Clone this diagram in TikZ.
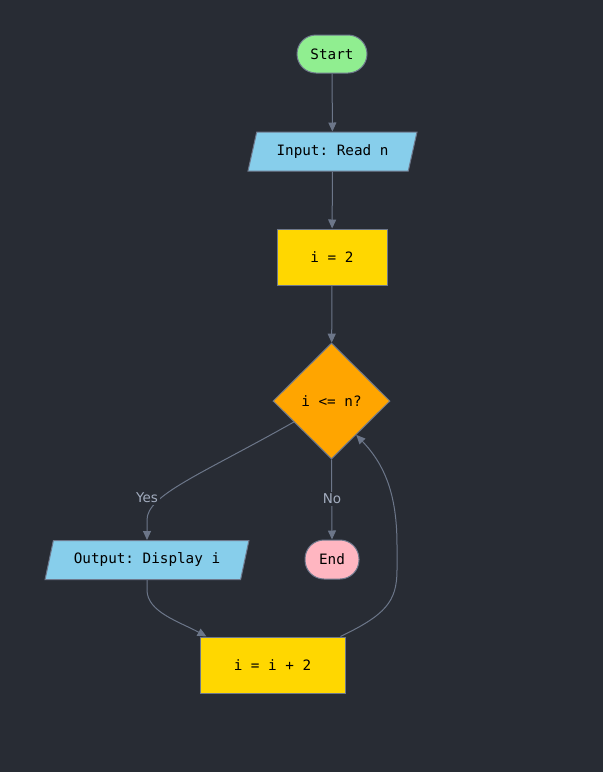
\documentclass[tikz,border=0pt]{standalone}
\usepackage{fontspec}
\setmonofont{DejaVu Sans Mono}
\newfontfamily\labelfont{DejaVu Sans}
\usetikzlibrary{shapes.geometric,arrows.meta,calc}

\definecolor{bgc}{HTML}{282C34}
\definecolor{edgec}{HTML}{6C7689}
\definecolor{borderc}{HTML}{6E788C}
\definecolor{labelc}{HTML}{A3ADBF}
\definecolor{startc}{HTML}{90EE90}
\definecolor{ioc}{HTML}{87CEEB}
\definecolor{procc}{HTML}{FFD700}
\definecolor{decc}{HTML}{FFA500}
\definecolor{endc}{HTML}{FFB6C1}

\tikzset{
  base/.style={draw=borderc, line width=1pt, text=black,
    font=\ttfamily\fontsize{14.3}{17}\selectfont, inner sep=0pt},
  terminal/.style={base, rectangle, rounded corners=19pt, minimum height=38pt},
  iobox/.style={base, trapezium, trapezium left angle=65, trapezium right angle=115,
    trapezium stretches=true, fill=ioc, minimum height=39pt},
  procbox/.style={base, rectangle, fill=procc, minimum height=56pt},
  decbox/.style={base, diamond, fill=decc, minimum width=117pt, minimum height=116pt},
  edge/.style={draw=edgec, line width=1pt, -{Triangle[length=9pt,width=8pt]}},
  elabel/.style={fill=bgc, text=labelc, inner sep=2pt,
    font=\labelfont\fontsize{13.5}{16}\selectfont}
}

\begin{document}
\begin{tikzpicture}[x=1pt, y=-1pt]
  \fill[bgc] (0,0) rectangle (603,772);
  \useasboundingbox (0,0) rectangle (603,772);

  % nodes
  \node[terminal, fill=startc, minimum width=70pt] (start) at (332,54) {Start};
  \node[iobox, minimum width=169pt] (input) at (332.5,151.5) {Input: Read n};
  \node[procbox, minimum width=110pt] (init) at (332,257) {i = 2};
  \node[decbox] (cond) at (331.5,401) {i <= n?};
  \node[iobox, minimum width=204pt] (output) at (147,560) {Output: Display i};
  \node[terminal, fill=endc, minimum width=54pt, minimum height=39pt] (stop) at (332,559.5) {End};
  \node[procbox, minimum width=145pt] (incr) at (272.5,665) {i = i + 2};

  % anchor points on the sloped sides
  \coordinate (yesout) at ($(cond.west)!0.36!(cond.south)$);
  \coordinate (loopin) at ($(cond.south)!0.42!(cond.east)$);
  \coordinate (incin) at ($(incr.north west)+(7,0)$);
  \coordinate (incout) at ($(incr.north east)+(-5,0)$);

  % connectors
  \draw[edge] (start) -- (input);
  \draw[edge] (input) -- (init);
  \draw[edge] (init) -- (cond);
  \draw[edge] (yesout) .. controls (200,475) and (147,495) .. (147,520) -- (output.north);
  \draw[edge] (cond.south) -- (stop.north);
  \draw[edge] (output.south) -- (147,590) .. controls (147,612) and (180,622) .. (incin);
  \draw[edge] (incout) .. controls (385,615) and (397,602) .. (397,570)
    -- (397,545) .. controls (397,495) and (385,465) .. (loopin);

  % edge labels
  \node[elabel] (yes) at (147,498) {Yes};
  \node[elabel] (no) at (332,499) {No};
\end{tikzpicture}
\end{document}
